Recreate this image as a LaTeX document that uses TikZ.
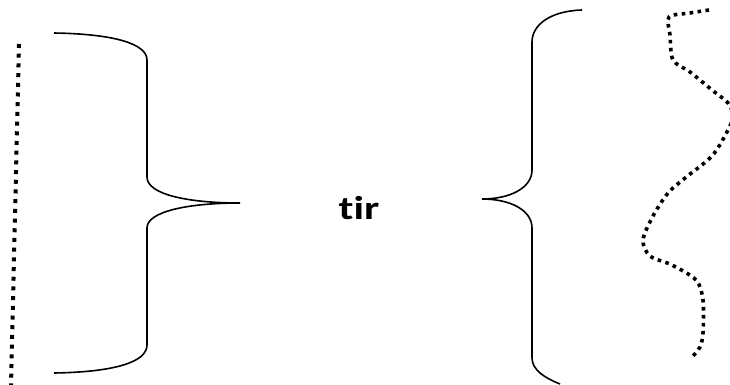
\documentclass[tikz,border=0pt]{standalone}
\usepackage{graphicx}
\usepackage{fontspec}
\setmainfont[Ligatures={NoCommon}]{Carlito}
\begin{document}
\begin{tikzpicture}[x=1pt,y=-1pt,
  bracestyle/.style={line width=1.6pt, black},
  dotline/.style={line width=4pt, dash pattern=on 4pt off 5.7pt, black},
  wavyline/.style={line width=3.6pt, dash pattern=on 3.6pt off 4.4pt, black},
  labeltext/.style={font=\bfseries\fontsize{33}{36}\selectfont, inner sep=0pt}]
\useasboundingbox (0,0) rectangle (730,385);
% left dotted line
\coordinate (lt) at (19,44);
\coordinate (lb) at (11,386);
\draw[dotline] (lt) -- (lb);
% left brace
\draw[bracestyle] (54,33) .. controls (115,34) and (147,44) .. (147,60) -- (147,177)
  .. controls (147,195) and (190,203) .. (240,203)
  .. controls (190,203) and (147,211) .. (147,228) -- (147,345)
  .. controls (147,362) and (115,372) .. (54,373);
% text
\node[labeltext, anchor=base] (t) at (359,219) {\scalebox{1.3}[1]{tir}};
% right brace
\draw[bracestyle] (582,10) .. controls (550,11) and (532,25) .. (532,42) -- (532,170)
  .. controls (532,188) and (510,199) .. (482,199)
  .. controls (510,199) and (532,210) .. (532,228) -- (532,358)
  .. controls (532,370) and (545,378) .. (560,384);
% wavy dotted line
\draw[wavyline] plot[smooth, tension=0.5] coordinates {(709,10) (690,13) (669,17) (670,35) (673,60) (690,72) (712,90) (728,103) (733,116) (728,130) (712,156) (685,178) (668,193) (653,216) (643,240) (650,256) (672,265) (696,280) (703,300) (703,333) (700,347) (693,356)};
\end{tikzpicture}
\end{document}
